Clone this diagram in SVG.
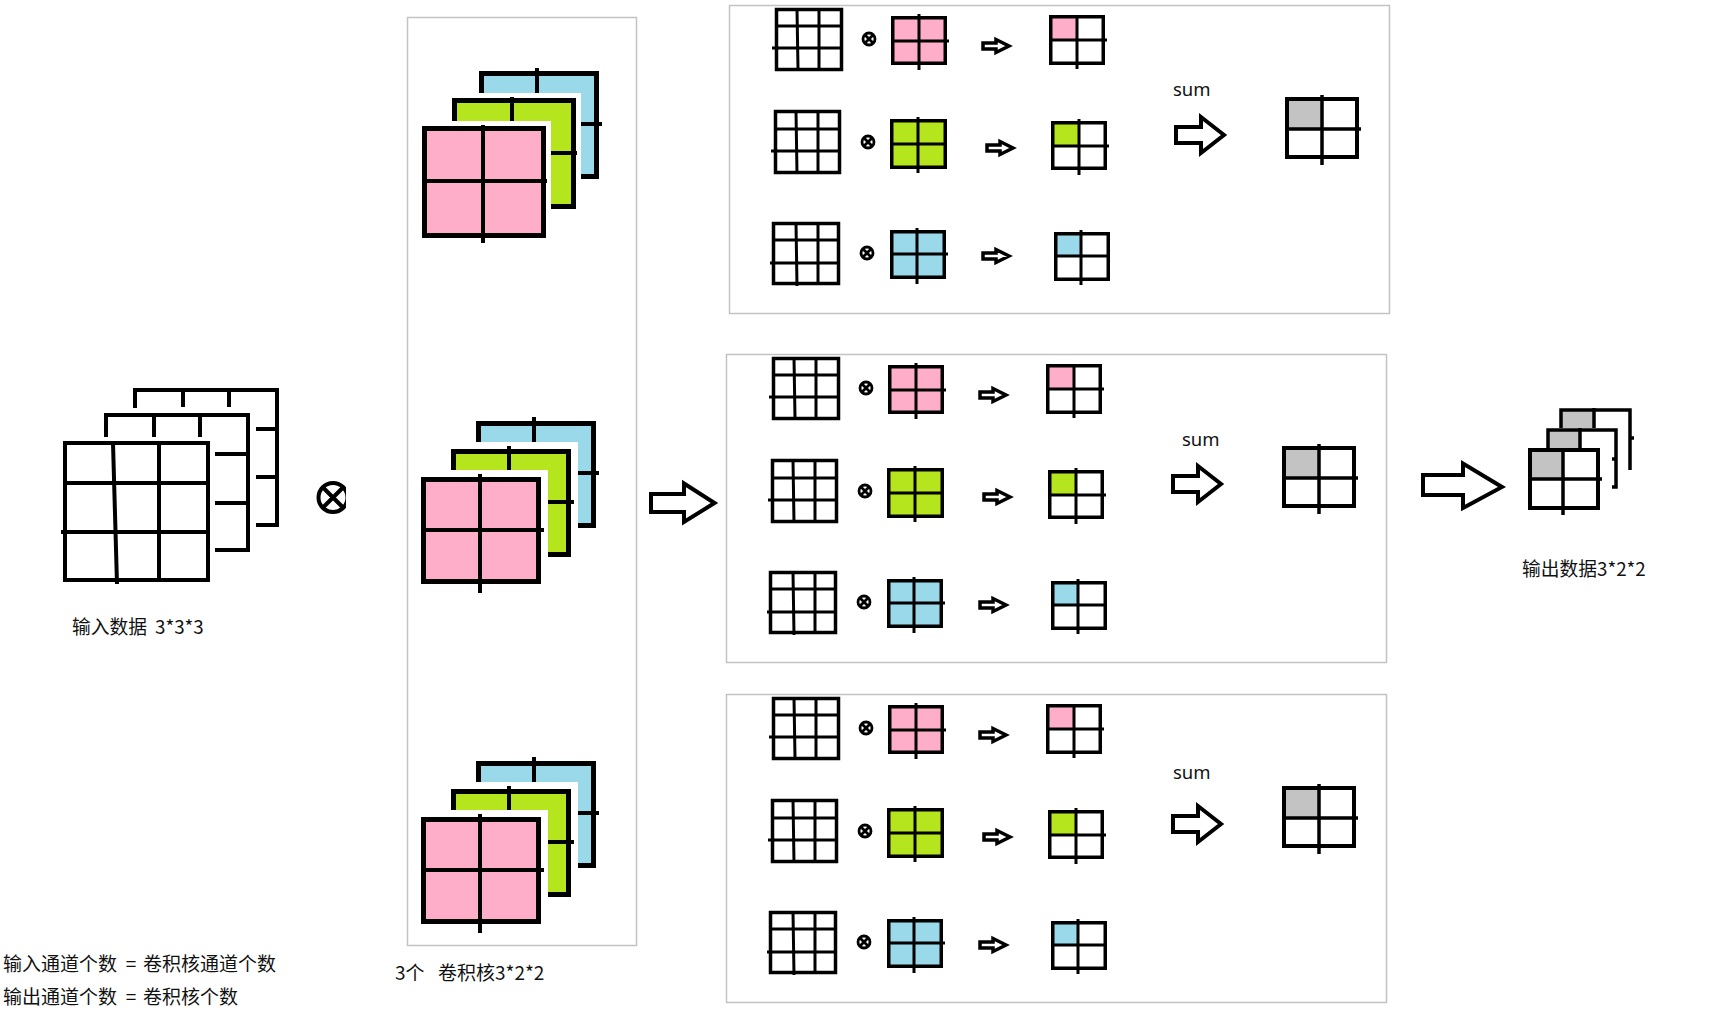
<svg xmlns="http://www.w3.org/2000/svg" xmlns:xlink="http://www.w3.org/1999/xlink" width="1722" height="1016" viewBox="0 0 1722 1016">
<style>
.frame{fill:none;stroke:#c3c3c3;stroke-width:1.5}
.ln{fill:none;stroke:#000;stroke-linecap:butt}
.w4{stroke-width:4}
.w5{stroke-width:5}
.w35{stroke-width:3.5}
.w3{stroke-width:3}
.w25{stroke-width:2.5}
.pink{fill:#ffaec9}
.green{fill:#b5e61d}
.blue{fill:#99d9ea}
.gray{fill:#c3c3c3}
.white{fill:#fff}
.arrow{fill:#fff;stroke:#000;stroke-linejoin:miter}
.cjk{font-family:"Noto Sans CJK SC","Noto Sans",sans-serif;fill:#111}
.lat{font-family:"Noto Sans","Open Sans",sans-serif;fill:#111}
</style>
<defs>
<clipPath id="clipOtimes"><rect x="300" y="470" width="46" height="60"/></clipPath>
<path id="sarrow" class="arrow" stroke-width="3.5" d="M2,-3 H15 V-6.5 L28,0 L15,6.5 V3 H2 Z"/>
<g id="otimesSmall">
<circle cx="0" cy="0" r="6" fill="#fff" stroke="#000" stroke-width="2.8"/>
<path class="ln" stroke-width="2.8" d="M-4,-4 L4,4 M-4,4 L4,-4"/>
</g>
<g id="panelBody">
<rect class="frame" x="726.5" y="354.5" width="660" height="308" fill="#fff"/>
<!-- row 1 -->
<g>
<rect class="ln w35" x="773.5" y="358.5" width="65" height="60"/>
<path class="ln w3" d="M794,358 L795,418 M816,358 V418 M773,375 H839 M769,397 H839"/>
</g>
<use href="#otimesSmall" transform="translate(866,388)"/>
<g>
<rect class="pink" x="889.75" y="366.75" width="52.5" height="45.5"/>
<rect class="ln w35" x="889.75" y="366.75" width="52.5" height="45.5"/>
<path class="ln w3" d="M916,363 V419 M888,390 H946"/>
</g>
<use href="#sarrow" transform="translate(978,395)"/>
<g>
<rect class="pink" x="1048" y="366" width="26" height="23"/>
<rect class="ln w35" x="1047.75" y="365.75" width="52.5" height="46.5"/>
<path class="ln w3" d="M1074,364 V418 M1046,389 H1104"/>
</g>
<!-- row 2 -->
<g>
<rect class="ln w35" x="772.5" y="460.5" width="64" height="61"/>
<path class="ln w3" d="M793,460 L794,523 M815,462 V521 M772,478 H837 M768,500 H837"/>
</g>
<use href="#otimesSmall" transform="translate(865,491)"/>
<g>
<rect class="green" x="888.75" y="469.75" width="53.5" height="46.5"/>
<rect class="ln w35" x="888.75" y="469.75" width="53.5" height="46.5"/>
<path class="ln w3" d="M915,466 V522 M887,493 H944"/>
</g>
<use href="#sarrow" transform="translate(982,497)"/>
<g>
<rect class="green" x="1050" y="472" width="26" height="23"/>
<rect class="ln w35" x="1049.75" y="471.75" width="52.5" height="45.5"/>
<path class="ln w3" d="M1076,468 V524 M1048,495 H1106"/>
</g>
<!-- row 3 -->
<g>
<rect class="ln w35" x="770.5" y="572.5" width="65" height="60"/>
<path class="ln w3" d="M793,572 L794,635 M815,573 V632 M770,589 H836 M767,612 H836"/>
</g>
<use href="#otimesSmall" transform="translate(864,602)"/>
<g>
<rect class="blue" x="888.75" y="580.75" width="52.5" height="45.5"/>
<rect class="ln w35" x="888.75" y="580.75" width="52.5" height="45.5"/>
<path class="ln w3" d="M914,577 V633 M887,603 H945"/>
</g>
<use href="#sarrow" transform="translate(978,605)"/>
<g>
<rect class="blue" x="1053" y="583" width="25" height="22"/>
<rect class="ln w35" x="1052.75" y="582.75" width="52.5" height="45.5"/>
<path class="ln w3" d="M1078,579 V634 M1051,605 H1107"/>
</g>
<!-- sum arrow and result -->
<path class="arrow w4" d="M1173,476 H1198 V466 L1221,484 L1198,502 V492 H1173 Z"/>
<g>
<rect class="gray" x="1284" y="448" width="35" height="30"/>
<rect class="ln w4" x="1284" y="448" width="70" height="58"/>
<path class="ln w35" d="M1319,444 V514 M1282,478 H1358"/>
</g>
</g>
</defs>

<rect x="0" y="0" width="1722" height="1016" fill="#fff"/>

<!-- Input data 3x3x3 -->
<g id="input-data">
<path class="ln w4" d="M135,408 V390 H277 V525 H256 M183,390 V407 M229,390 V407 M256,429 H277 M256,477 H277"/>
<path class="ln w4" d="M106,437 V415 H248 V550 H215 M154,415 V437 M200,415 V437 M215,454 H248 M215,503 H248"/>
<rect class="white" x="65" y="443" width="143" height="137"/>
<rect class="ln w4" x="65" y="443" width="143" height="137"/>
<path class="ln w4" d="M113,443 L117,584 M159,443 V580 M65,483 H208 M61,532 H208"/>
<text class="cjk" x="72" y="634" font-size="18.75">输入数据</text>
<text class="cjk" x="155" y="634" font-size="18.75">3*3*3</text>
</g>

<!-- big convolution operator -->
<g id="op-conv" clip-path="url(#clipOtimes)">
<circle cx="333" cy="497.5" r="14.5" fill="#fff" stroke="#000" stroke-width="4"/>
<path class="ln w4" d="M323,487.5 L343,507.5 M323,507.5 L343,487.5"/>
</g>

<!-- kernels -->
<g id="kernels">
<rect class="frame" x="407.5" y="17.5" width="229" height="928"/>
<!-- kernel 1 -->
<g id="kernel-1">
<rect class="blue" x="481.5" y="73.5" width="115" height="103"/>
<rect class="ln w5" x="481.5" y="73.5" width="115" height="103"/>
<path class="ln w4" d="M537,68 V120 M560,124 H602"/>
<rect class="white" x="450" y="93" width="131" height="116"/>
<rect class="green" x="454.5" y="100.5" width="119" height="106"/>
<rect class="ln w5" x="454.5" y="100.5" width="119" height="106"/>
<path class="ln w4" d="M512,97 V150 M530,153 H577"/>
<rect class="white" x="419" y="121" width="132" height="117"/>
<rect class="pink" x="424.5" y="128.5" width="119" height="107"/>
<rect class="ln w5" x="424.5" y="128.5" width="119" height="107"/>
<path class="ln w4" d="M483,125 V243 M422,181 H547"/>
</g>
<!-- kernel 2 -->
<g id="kernel-2">
<rect class="blue" x="478.5" y="423.5" width="115" height="102"/>
<rect class="ln w5" x="478.5" y="423.5" width="115" height="102"/>
<path class="ln w4" d="M534,417 V470 M556,473 H599"/>
<rect class="white" x="448" y="442" width="130" height="115"/>
<rect class="green" x="453.5" y="451.5" width="115" height="103"/>
<rect class="ln w5" x="453.5" y="451.5" width="115" height="103"/>
<path class="ln w4" d="M509,446 V500 M530,502 H574"/>
<rect class="white" x="418" y="470" width="130" height="114"/>
<rect class="pink" x="423.5" y="479.5" width="115" height="102"/>
<rect class="ln w5" x="423.5" y="479.5" width="115" height="102"/>
<path class="ln w4" d="M480,474 V593 M421,530 H544"/>
</g>
<!-- kernel 3 -->
<g id="kernel-3" transform="translate(0,340)">
<rect class="blue" x="478.5" y="423.5" width="115" height="102"/>
<rect class="ln w5" x="478.5" y="423.5" width="115" height="102"/>
<path class="ln w4" d="M534,417 V470 M556,473 H599"/>
<rect class="white" x="448" y="442" width="130" height="115"/>
<rect class="green" x="453.5" y="451.5" width="115" height="103"/>
<rect class="ln w5" x="453.5" y="451.5" width="115" height="103"/>
<path class="ln w4" d="M509,446 V500 M530,502 H574"/>
<rect class="white" x="418" y="470" width="130" height="114"/>
<rect class="pink" x="423.5" y="479.5" width="115" height="102"/>
<rect class="ln w5" x="423.5" y="479.5" width="115" height="102"/>
<path class="ln w4" d="M480,474 V593 M421,530 H544"/>
</g>
<text class="cjk" x="395" y="980" font-size="19">3个</text>
<text class="cjk" x="438" y="980" font-size="19">卷积核3*2*2</text>
</g>

<!-- connectors -->
<g id="connectors">
<path id="arrow-to-panels" class="arrow w4" d="M651,494 H684 V483.5 L714.5,503 L684,522 V512 H651 Z"/>
<path id="arrow-to-output" class="arrow w4" d="M1423,475 H1463 V463.5 L1502,487 L1463,508 V495 H1423 Z"/>
</g>

<!-- channel panels -->
<g id="panel-1">
<use href="#panelBody" transform="translate(3,-349)"/>
<text class="lat" x="1173" y="96" font-size="18.5">sum</text>
</g>
<g id="panel-2">
<use href="#panelBody"/>
<text class="lat" x="1182" y="446" font-size="18.5">sum</text>
</g>
<g id="panel-3">
<use href="#panelBody" transform="translate(0,340)"/>
<text class="lat" x="1173" y="779" font-size="18.5">sum</text>
</g>

<!-- output 3x2x2 -->
<g id="output-data">
<rect class="gray" x="1561" y="410" width="33" height="18"/>
<path class="ln w35" d="M1561,428 V410 H1630 V470 M1594,408 V428 M1630,438 H1634"/>
<rect class="gray" x="1548" y="430" width="32" height="18"/>
<path class="ln w35" d="M1548,448 V430 H1616 V487 H1612 M1580,428 V448 M1612,459 H1616"/>
<rect class="white" x="1530" y="450" width="68" height="58"/>
<rect class="gray" x="1530" y="450" width="33" height="29"/>
<rect class="ln w4" x="1530" y="450" width="68" height="58"/>
<path class="ln w35" d="M1563,448 V515 M1528,479 H1602"/>
<text class="cjk" x="1522" y="576" font-size="18.75">输出数据3*2*2</text>
</g>

<!-- notes -->
<g id="notes">
<text class="cjk" x="3" y="971" font-size="19">输入通道个数</text>
<text class="cjk" x="131" y="971" font-size="19" text-anchor="middle">=</text>
<text class="cjk" x="143" y="971" font-size="19">卷积核通道个数</text>
<text class="cjk" x="3" y="1004" font-size="19">输出通道个数</text>
<text class="cjk" x="131" y="1004" font-size="19" text-anchor="middle">=</text>
<text class="cjk" x="143" y="1004" font-size="19">卷积核个数</text>
</g>
</svg>
